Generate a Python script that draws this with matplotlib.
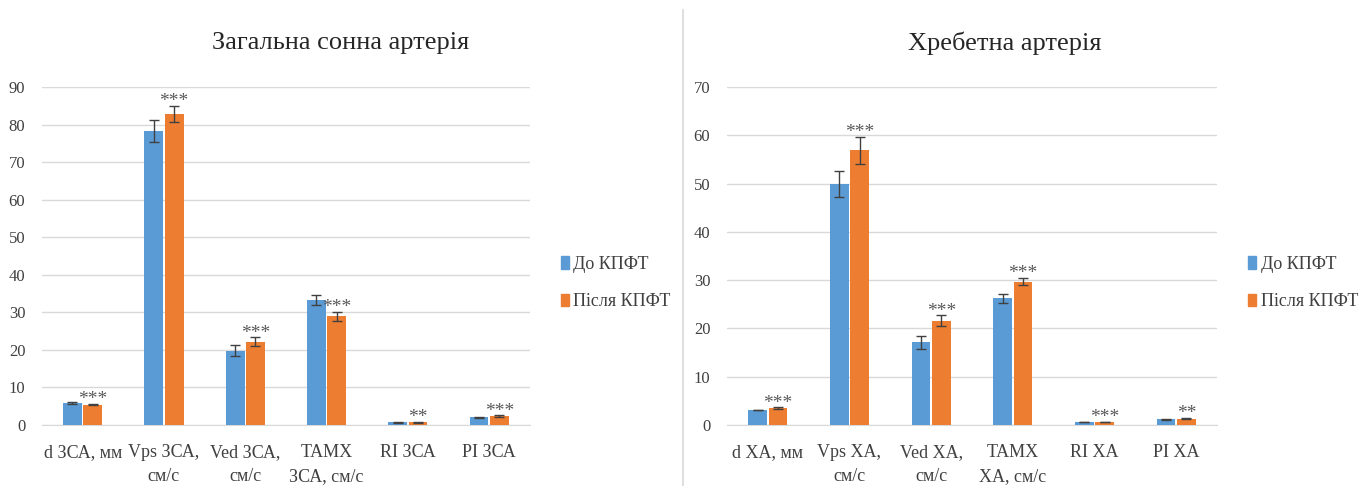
import numpy as np
import matplotlib.pyplot as plt
from matplotlib.patches import Patch
from matplotlib.lines import Line2D

plt.rcParams['font.family'] = ['Liberation Serif', 'DejaVu Serif']

# Загальна сонна артерія
cca_labels = ['d ЗСА, мм', 'Vps ЗСА,\nсм/с', 'Ved ЗСА,\nсм/с', 'ТАМХ\nЗСА, см/с', 'RI ЗСА', 'PI ЗСА']
cca_before = [5.8, 78.3, 19.8, 33.3, 0.7, 2.0]
cca_before_err = [0.2, 3.0, 1.4, 1.3, 0.05, 0.1]
cca_after = [5.4, 82.9, 22.2, 29.0, 0.7, 2.4]
cca_after_err = [0.2, 2.1, 1.1, 1.2, 0.05, 0.15]
cca_marks = ['***', '***', '***', '***', '**', '***']

# Хребетна артерія
va_labels = ['d ХА, мм', 'Vps ХА,\nсм/с', 'Ved ХА,\nсм/с', 'ТАМХ\nХА, см/с', 'RI ХА', 'PI ХА']
va_before = [3.1, 49.9, 17.1, 26.2, 0.6, 1.2]
va_before_err = [0.05, 2.6, 1.4, 0.9, 0.05, 0.1]
va_after = [3.45, 56.9, 21.6, 29.7, 0.6, 1.3]
va_after_err = [0.2, 2.8, 1.1, 0.7, 0.05, 0.15]
va_marks = ['***', '***', '***', '***', '***', '**']

series_names = ['До КПФТ', 'Після КПФТ']
BLUE = '#5B9BD5'
ORANGE = '#ED7D31'
GRID = '#D9D9D9'
TEXT = '#404040'


def draw_panel(ax, labels, before, before_err, after, after_err, marks, ymax):
    x = np.arange(len(labels))
    w = 0.23
    ax.bar(x - w / 2 - 0.01, before, w, color=BLUE, zorder=3)
    ax.bar(x + w / 2 + 0.01, after, w, color=ORANGE, zorder=3)
    ek = dict(fmt='none', ecolor='#404040', elinewidth=1, capsize=3.5, capthick=1, zorder=4)
    ax.errorbar(x - w / 2 - 0.01, before, yerr=before_err, **ek)
    ax.errorbar(x + w / 2 + 0.01, after, yerr=after_err, **ek)
    for xi, v, e, m in zip(x, after, after_err, marks):
        ax.annotate(m, (xi + w / 2 + 0.01, v + e), xytext=(0, -3), textcoords='offset points',
                    ha='center', va='bottom', fontsize=14, color='#595959')

    ax.set_xlim(-0.5, len(labels) - 0.5)
    ax.set_ylim(0, ymax)
    ax.set_yticks(np.arange(0, ymax + 1, 10))
    ax.yaxis.grid(True, color=GRID, linewidth=1, zorder=0)
    ax.set_axisbelow(True)
    for s in ['top', 'right', 'left']:
        ax.spines[s].set_visible(False)
    ax.spines['bottom'].set_color(GRID)
    ax.set_xticks(x)
    ax.set_xticklabels(labels, fontsize=13, color=TEXT, linespacing=1.5, va='top')
    ax.tick_params(axis='x', length=0, pad=14)
    ax.tick_params(axis='y', length=0, pad=12, labelsize=12, labelcolor=TEXT)

    handles = [Patch(color=BLUE), Patch(color=ORANGE)]
    ax.legend(handles, series_names, loc='center left', bbox_to_anchor=(1.03, 0.42),
              frameon=False, fontsize=13, handlelength=0.45, handleheight=0.7,
              handletextpad=0.25, labelspacing=1.15, labelcolor=TEXT)


fig = plt.figure(figsize=(13.68, 4.86), dpi=100)
ax1 = fig.add_axes([0.0307, 0.1255, 0.3567, 0.6955])
ax2 = fig.add_axes([0.5314, 0.1255, 0.3582, 0.6955])

draw_panel(ax1, cca_labels, cca_before, cca_before_err, cca_after, cca_after_err, cca_marks, 90)
draw_panel(ax2, va_labels, va_before, va_before_err, va_after, va_after_err, va_marks, 70)

fig.text(0.2493, 0.912, 'Загальна сонна артерія', ha='center', va='center',
         fontsize=19, color='#262626')
fig.text(0.7346, 0.912, 'Хребетна артерія', ha='center', va='center',
         fontsize=19, color='#262626')

# divider between the two panels
fig.add_artist(Line2D([0.4993, 0.4993], [0.0, 0.98], color='#D9D9D9', linewidth=1.2,
                      transform=fig.transFigure))

fig.savefig('out.png', dpi=100, facecolor='white')
